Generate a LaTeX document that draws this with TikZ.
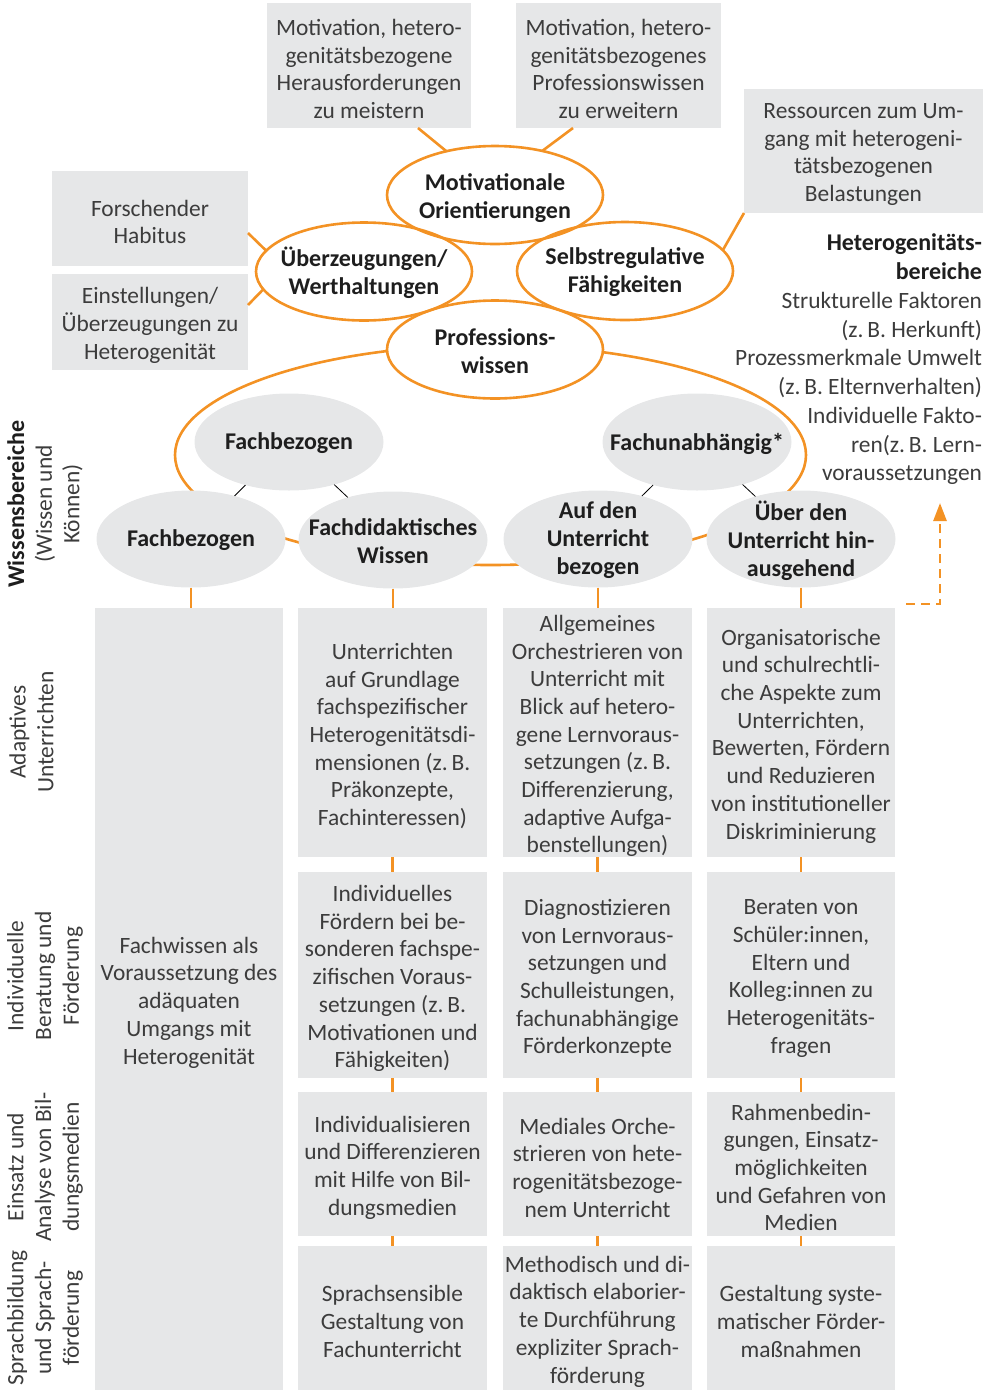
\documentclass[tikz,border=0pt]{standalone}
\usepackage{fontspec}
\setmainfont{Carlito}
\usetikzlibrary{shapes.geometric,arrows.meta}
\definecolor{orng}{RGB}{243,146,36}
\definecolor{gry}{RGB}{230,231,232}
\definecolor{txt}{RGB}{60,60,60}
\definecolor{btxt}{RGB}{30,30,30}
\tikzset{
  every node/.style={inner sep=0pt, outer sep=0pt},
  fs/.style={font=\fontsize{23.4}{27.7}\selectfont},
  gbox/.style={rectangle, fill=gry, draw=none},
  gtext/.style={align=center, fs, text=txt, yshift=-3.5pt},
  oell/.style={ellipse, draw=orng, line width=2.6pt, minimum width=216pt, minimum height=98pt},
  gell/.style={ellipse, fill=gry, draw=none, minimum width=189pt, minimum height=97pt},
  btext/.style={align=center, font=\fontsize{24}{28}\selectfont\bfseries, text=btxt, yshift=-1.5pt},
  oline/.style={draw=orng, line width=2.6pt},
  kline/.style={draw=black, line width=0.8pt},
  sidelab/.style={fs, text=txt, rotate=90, align=center}
}
\begin{document}
\begin{tikzpicture}[x=1pt,y=-1pt]
\useasboundingbox (0,0) rectangle (993,1390);

% top boxes
\node[gbox, minimum width=204pt, minimum height=125pt, label={[name=boxA-t, gtext]center:{Motivation, hetero-\\genitätsbezogene\\Herausforderungen\\zu meistern}}] (boxA) at (369,65.5) {};
\node[gbox, minimum width=205pt, minimum height=125pt, label={[name=boxB-t, gtext]center:{Motivation, hetero-\\genitätsbezogenes\\Professionswissen\\zu erweitern}}] (boxB) at (618.5,65.5) {};
\node[gbox, minimum width=239pt, minimum height=124pt, label={[name=boxC-t, gtext]center:{Ressourcen zum Um-\\gang mit heterogeni-\\tätsbezogenen\\Belastungen}}] (boxC) at (863.5,151) {};
\node[gbox, minimum width=196pt, minimum height=95pt, label={[name=forsch-t, gtext]center:{Forschender\\Habitus}}] (forsch) at (150,218.5) {};
\node[gbox, minimum width=196pt, minimum height=96pt, label={[name=einst-t, gtext]center:{Einstellungen/\\Überzeugungen zu\\Heterogenität}}] (einst) at (150,322) {};

% big orange ellipse
\draw[oline] (490.5,455) ellipse [x radius=315.5, y radius=110];

% orange ellipses
\node[oell, fill=white] (prof) at (495,349.5) {};
\node[oell] (mot) at (495,195) {};
\node[oell] (ueb) at (364,271.5) {};
\node[oell] (selbst) at (625,271) {};
\node[btext] (prof-t) at (prof) {Professions-\\wissen};
\node[btext, yshift=-1.5pt] (mot-t) at (mot) {Motivationale\\Orientierungen};
\node[btext] (ueb-t) at (ueb) {Überzeugungen/\\Werthaltungen};
\node[btext] (selbst-t) at (selbst) {Selbstregulative\\Fähigkeiten};

% connectors top
\draw[oline] ([xshift=49pt]boxA.south) -- (mot.138);
\draw[oline] ([xshift=-45.5pt]boxB.south) -- (mot.43);
\draw[oline] (boxC.south west) -- (selbst.12);
\draw[oline] ([yshift=33pt]forsch.south east) -- (ueb.168);
\draw[oline] ([yshift=-31pt]einst.north east) -- (ueb.190);

% gray ellipses
\node[gell] (fb1) at (289,442) {};
\node[gell] (fu) at (697,442) {};
\node[gell] (fb2) at (191,539) {};
\node[gell] (fd) at (393,540) {};
\node[gell] (au) at (598,539) {};
\node[gell] (ud) at (801,539) {};
\node[btext] (fb1-t) at (fb1) {Fachbezogen};
\node[btext] (fu-t) at (fu) {Fachunabhängig*};
\node[btext] (fb2-t) at (fb2) {Fachbezogen};
\node[btext] (fd-t) at (fd) {Fachdidaktisches\\Wissen};
\node[btext] (au-t) at (au) {Auf den\\Unterricht\\bezogen};
\node[btext] (ud-t) at (ud) {Über den\\Unterricht hin-\\ausgehend};

\draw[kline] (fb1) -- (fb2);
\draw[kline] (fb1) -- (fd);
\draw[kline] (fu) -- (au);
\draw[kline] (fu) -- (ud);

% right text
\node[align=right, anchor=east, text=txt, font=\fontsize{23.4}{28.75}\selectfont] (hetero) at (982,359.5)
 {{\fontsize{24}{28.75}\selectfont\bfseries\color{btxt}Heterogenitäts-}\\{\fontsize{24}{28.75}\selectfont\bfseries\color{btxt}bereiche}\\Strukturelle Faktoren\\(z.\,B. Herkunft)\\Prozessmerkmale Umwelt\\(z.\,B. Elternverhalten)\\Individuelle Fakto-\\ren(z.\,B. Lern-\\voraussetzungen};

% big left box
\node[gbox, minimum width=188pt, minimum height=782pt, label={[name=big-t, gtext]center:{Fachwissen als\\Voraussetzung des\\adäquaten\\Umgangs mit\\Heterogenität}}] (big) at (189,999) {};

% column boxes
\node[gbox, minimum width=189pt, minimum height=249pt, label={[name=r1c1-t, gtext]center:{Unterrichten\\auf Grundlage\\fachspezifischer\\Heterogenitätsdi-\\mensionen (z.\,B.\\Präkonzepte,\\Fachinteressen)}}] (r1c1) at (392.5,732.5) {};
\node[gbox, minimum width=189pt, minimum height=249pt, label={[name=r1c2-t, gtext]center:{Allgemeines\\Orchestrieren von\\Unterricht mit\\Blick auf hetero-\\gene Lernvoraus-\\setzungen (z.\,B.\\Differenzierung,\\adaptive Aufga-\\benstellungen)}}] (r1c2) at (597.5,732.5) {};
\node[gbox, minimum width=188pt, minimum height=249pt, label={[name=r1c3-t, gtext]center:{Organisatorische\\und schulrechtli-\\che Aspekte zum\\Unterrichten,\\Bewerten, Fördern\\und Reduzieren\\von institutioneller\\Diskriminierung}}] (r1c3) at (801,732.5) {};

\node[gbox, minimum width=189pt, minimum height=206pt, label={[name=r2c1-t, gtext]center:{Individuelles\\Fördern bei be-\\sonderen fachspe-\\zifischen Voraus-\\setzungen (z.\,B.\\Motivationen und\\Fähigkeiten)}}] (r2c1) at (392.5,975) {};
\node[gbox, minimum width=189pt, minimum height=206pt, label={[name=r2c2-t, gtext]center:{Diagnostizieren\\von Lernvoraus-\\setzungen und\\Schulleistungen,\\fachunabhängige\\Förderkonzepte}}] (r2c2) at (597.5,975) {};
\node[gbox, minimum width=188pt, minimum height=206pt, label={[name=r2c3-t, gtext]center:{Beraten von\\Schüler:innen,\\Eltern und\\Kolleg:innen zu\\Heterogenitäts-\\fragen}}] (r2c3) at (801,975) {};

\node[gbox, minimum width=189pt, minimum height=144pt, label={[name=r3c1-t, gtext]center:{Individualisieren\\und Differenzieren\\mit Hilfe von Bil-\\dungsmedien}}] (r3c1) at (392.5,1164) {};
\node[gbox, minimum width=189pt, minimum height=144pt, label={[name=r3c2-t, gtext]center:{Mediales Orche-\\strieren von hete-\\rogenitätsbezoge-\\nem Unterricht}}] (r3c2) at (597.5,1164) {};
\node[gbox, minimum width=188pt, minimum height=144pt, label={[name=r3c3-t, gtext]center:{Rahmenbedin-\\gungen, Einsatz-\\möglichkeiten\\und Gefahren von\\Medien}}] (r3c3) at (801,1164) {};

\node[gbox, minimum width=189pt, minimum height=144pt, label={[name=r4c1-t, gtext]center:{Sprachsensible\\Gestaltung von\\Fachunterricht}}] (r4c1) at (392.5,1318) {};
\node[gbox, minimum width=189pt, minimum height=144pt, label={[name=r4c2-t, gtext]center:{Methodisch und di-\\daktisch elaborier-\\te Durchführung\\expliziter Sprach-\\förderung}}] (r4c2) at (597.5,1318) {};
\node[gbox, minimum width=188pt, minimum height=144pt, label={[name=r4c3-t, gtext]center:{Gestaltung syste-\\matischer Förder-\\maßnahmen}}] (r4c3) at (801,1318) {};

% vertical orange connectors
\draw[oline] (fb2.south) -- (fb2.south |- big.north);
\draw[oline] (fd.south) -- (fd.south |- r1c1.north);
\draw[oline] (au.south) -- (au.south |- r1c2.north);
\draw[oline] (ud.south) -- (ud.south |- r1c3.north);
\foreach \c in {1,2,3}{
  \draw[oline] (r1c\c.south) -- (r2c\c.north);
  \draw[oline] (r2c\c.south) -- (r3c\c.north);
  \draw[oline] (r3c\c.south) -- (r4c\c.north);
}

% dashed arrow
\coordinate (a0) at (906,604);
\coordinate (a1) at (940,604);
\coordinate (a2) at (940,503);
\draw[oline, dash pattern=on 9pt off 6pt, -{Triangle[length=18pt,width=13pt]}] (a0) -- (a1) -- (a2);

% side labels
\node[sidelab] (lab0) at (45,504) {{\fontsize{24}{27.7}\selectfont\bfseries\color{btxt}Wissensbereiche}\\(Wissen und\\Können)};
\node[sidelab] (lab1) at (31.5,732) {Adaptives\\Unterrichten};
\node[sidelab] (lab2) at (45,976) {Individuelle\\Beratung und\\Förderung};
\node[sidelab] (lab3) at (45,1167) {Einsatz und\\Analyse von Bil-\\dungsmedien};
\node[sidelab] (lab4) at (45,1318) {Sprachbildung\\und Sprach-\\förderung};
\end{tikzpicture}
\end{document}
